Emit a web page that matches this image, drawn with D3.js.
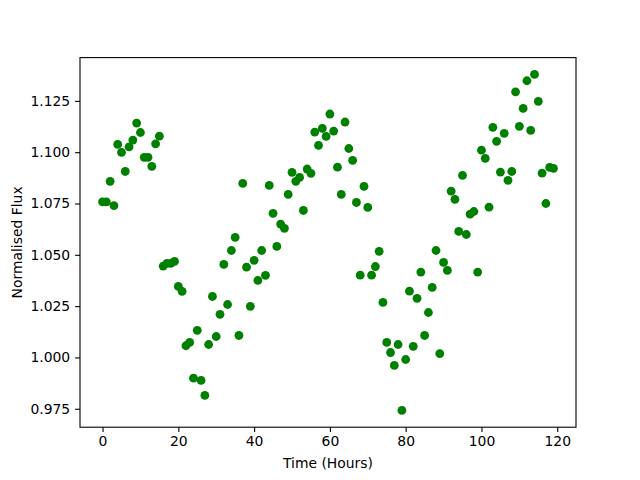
<!DOCTYPE html>
<html>
<head>
<meta charset="utf-8">
<script src="https://cdn.jsdelivr.net/npm/d3@7"></script>
<style>
  body { margin: 0; background: #fff; }
  svg { display: block; font-family: "DejaVu Sans", sans-serif; }
  .tick text { font-size: 13.9px; fill: #000; }
</style>
</head>
<body>
<svg width="640" height="480"></svg>
<script>
// time in hours
const hours = [
  0, 1, 2, 3, 4, 5, 6, 7, 8, 9, 10, 11, 12, 13, 14, 15, 16, 17, 18, 19,
  20, 21, 22, 23, 24, 25, 26, 27, 28, 29, 30, 31, 32, 33, 34, 35, 36, 37, 38, 39,
  40, 41, 42, 43, 44, 45, 46, 47, 48, 49, 50, 51, 52, 53, 54, 55, 56, 57, 58, 59,
  60, 61, 62, 63, 64, 65, 66, 67, 68, 69, 70, 71, 72, 73, 74, 75, 76, 77, 78, 79,
  80, 81, 82, 83, 84, 85, 86, 87, 88, 89, 90, 91, 92, 93, 94, 95, 96, 97, 98, 99,
  100, 101, 102, 103, 104, 105, 106, 107, 108, 109, 110, 111, 112, 113, 114, 115, 116, 117, 118, 119
];

// normalised flux
const flux = [
  1.0758, 1.0758, 1.0858, 1.0740, 1.1038, 1.0999, 1.0906, 1.1026, 1.1059, 1.1142,
  1.1096, 1.0975, 1.0975, 1.0931, 1.1041, 1.1078, 1.0445, 1.0458, 1.0458, 1.0468,
  1.0346, 1.0322, 1.0057, 1.0073, 0.9899, 1.0132, 0.9888, 0.9815, 1.0063, 1.0297,
  1.0102, 1.0210, 1.0453, 1.0258, 1.0521, 1.0585, 1.0107, 1.0848, 1.0440, 1.0249,
  1.0473, 1.0375, 1.0521, 1.0400, 1.0838, 1.0702, 1.0541, 1.0650, 1.0629, 1.0794,
  1.0902, 1.0858, 1.0877, 1.0716, 1.0918, 1.0897, 1.1098, 1.1033, 1.1116, 1.1077,
  1.1186, 1.1103, 1.0927, 1.0794, 1.1147, 1.1018, 1.0960, 1.0755, 1.0401, 1.0833,
  1.0731, 1.0401, 1.0443, 1.0517, 1.0268, 1.0073, 1.0024, 0.9961, 1.0063, 0.9742,
  0.9990, 1.0323, 1.0054, 1.0288, 1.0416, 1.0107, 1.0219, 1.0341, 1.0521, 1.0019,
  1.0463, 1.0424, 1.0810, 1.0770, 1.0614, 1.0887, 1.0599, 1.0698, 1.0711, 1.0416,
  1.1010, 1.0970, 1.0732, 1.1121, 1.1053, 1.0903, 1.1092, 1.0863, 1.0906, 1.1294,
  1.1126, 1.1213, 1.1348, 1.1106, 1.1379, 1.1248, 1.0898, 1.0750, 1.0926, 1.0921
];

const xTicks = [0, 20, 40, 60, 80, 100, 120];
const yTicks = [0.975, 1.000, 1.025, 1.050, 1.075, 1.100, 1.125];

const margin = { top: 57.6, right: 64, bottom: 52.8, left: 80 };
const width = 640, height = 480;

let data = hours.map((h, i) => ({ t: h, f: flux[i] }));

// matplotlib-style 5% padding around the data
let xExt = d3.extent(hours), yExt = d3.extent(flux);
let xPad = (xExt[1] - xExt[0]) * 0.05, yPad = (yExt[1] - yExt[0]) * 0.05;

let x = d3.scaleLinear()
    .domain([xExt[0] - xPad, xExt[1] + xPad])
    .range([margin.left, width - margin.right]);
let y = d3.scaleLinear()
    .domain([yExt[0] - yPad, yExt[1] + yPad])
    .range([height - margin.bottom, margin.top]);

let svg = d3.select('svg');

svg.selectAll('circle')
    .data(data)
    .join('circle')
    .attr('cx', d => x(d.t))
    .attr('cy', d => y(d.f))
    .attr('r', 4.4)
    .attr('fill', '#008000');

// frame
svg.append('rect')
    .attr('x', margin.left)
    .attr('y', margin.top)
    .attr('width', width - margin.left - margin.right)
    .attr('height', height - margin.top - margin.bottom)
    .attr('fill', 'none')
    .attr('stroke', '#000')
    .attr('stroke-width', 1.1);

let xAxis = svg.append('g')
    .attr('transform', `translate(0,${height - margin.bottom})`)
    .call(d3.axisBottom(x).tickValues(xTicks).tickSize(4.9).tickPadding(4.5).tickFormat(d3.format('d')));
let yAxis = svg.append('g')
    .attr('transform', `translate(${margin.left},0)`)
    .call(d3.axisLeft(y).tickValues(yTicks).tickSize(4.9).tickPadding(4.9).tickFormat(d3.format('.3f')));

[xAxis, yAxis].forEach(g => {
    g.select('.domain').remove();
    g.selectAll('.tick line').attr('stroke', '#000').attr('stroke-width', 1.1);
    g.attr('font-family', null).attr('font-size', null);
});

svg.append('text')
    .attr('x', (margin.left + width - margin.right) / 2)
    .attr('y', 468)
    .attr('text-anchor', 'middle')
    .attr('font-size', '13.9px')
    .text('Time (Hours)');

svg.append('text')
    .attr('transform', `translate(22,${(margin.top + height - margin.bottom) / 2}) rotate(-90)`)
    .attr('text-anchor', 'middle')
    .attr('font-size', '13.9px')
    .text('Normalised Flux');
</script>
</body>
</html>
